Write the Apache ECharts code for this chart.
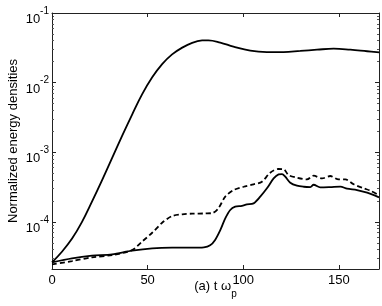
<!DOCTYPE html>
<html>
<head>
<meta charset="utf-8">
<script src="https://cdn.jsdelivr.net/npm/echarts@6/dist/echarts.min.js"></script>
<style>html,body{margin:0;padding:0;background:#fff}#c{width:382px;height:306px}</style>
</head>
<body>
<div id="c"></div>
<script>
// Upper solid curve
const tUpper = [0, 5.2, 10.5, 15.7, 20.9, 26.2, 31.4, 36.6, 41.9, 47.1, 52.4, 57.6, 62.8, 68.1, 73.3, 78.5, 81.8, 88, 94.9, 103.7, 112.4, 121.1, 129.8, 138.6, 147.3, 156, 164.8, 171.2];
const upper = [2.62e-5, 3.72e-5, 5.75e-5, 1.0e-4, 1.95e-4, 3.98e-4, 8.22e-4, 1.70e-3, 3.47e-3, 6.76e-3, 1.19e-2, 1.84e-2, 2.54e-2, 3.18e-2, 3.73e-2, 4.03e-2, 4.05e-2, 3.76e-2, 3.28e-2, 2.87e-2, 2.75e-2, 2.75e-2, 2.85e-2, 2.97e-2, 3.07e-2, 2.97e-2, 2.82e-2, 2.72e-2];
// Lower solid curve
const tLower = [0, 10.5, 20.9, 31.4, 41.9, 52.4, 62.8, 73.3, 79.4, 82.7, 85.3, 88, 90.6, 93.2, 95.8, 99.3, 101.9, 105.4, 108.9, 112.4, 115.9, 118.5, 120.3, 122, 124.6, 128.1, 131.6, 135.1, 136.8, 140.3, 145.5, 150.8, 154.3, 159.5, 164.8, 171];
const lower = [2.62e-5, 2.99e-5, 3.26e-5, 3.41e-5, 3.85e-5, 4.16e-5, 4.25e-5, 4.25e-5, 4.3e-5, 4.6e-5, 5.5e-5, 7.6e-5, 1.12e-4, 1.48e-4, 1.65e-4, 1.70e-4, 1.78e-4, 1.84e-4, 2.3e-4, 3.03e-4, 4.2e-4, 4.8e-4, 4.86e-4, 4.45e-4, 3.65e-4, 3.3e-4, 3.19e-4, 3.16e-4, 3.41e-4, 3.13e-4, 3.16e-4, 3.21e-4, 2.99e-4, 2.86e-4, 2.62e-4, 2.25e-4];
// Dashed curve
const tDashed = [0, 10.5, 20.9, 31.4, 41.9, 47.1, 52.4, 57.6, 62.8, 68.1, 73.3, 80.3, 84, 87, 90.6, 95, 100.2, 105.4, 109.8, 114.1, 118.5, 121.1, 123.7, 128.1, 133.3, 136.8, 141.2, 145.5, 149.9, 153.4, 157.8, 163, 166.5, 170.8];
const dashed = [2.45e-5, 2.73e-5, 3.09e-5, 3.33e-5, 3.93e-5, 5.2e-5, 6.97e-5, 9.7e-5, 1.21e-4, 1.28e-4, 1.31e-4, 1.32e-4, 1.34e-4, 1.56e-4, 2.3e-4, 2.86e-4, 3.19e-4, 3.46e-4, 3.77e-4, 5.08e-4, 5.74e-4, 5.7e-4, 4.7e-4, 4.3e-4, 4.07e-4, 4.6e-4, 4.2e-4, 4.55e-4, 4.07e-4, 4.07e-4, 3.46e-4, 3.03e-4, 2.8e-4, 2.43e-4];

const xTicks = [0, 50, 100, 150];
const yMajor = [1e-4, 1e-3, 1e-2, 1e-1];
const yMinor = [3e-5,4e-5,5e-5,6e-5,7e-5,8e-5,9e-5,2e-4,3e-4,4e-4,5e-4,6e-4,7e-4,8e-4,9e-4,2e-3,3e-3,4e-3,5e-3,6e-3,7e-3,8e-3,9e-3,2e-2,3e-2,4e-2,5e-2,6e-2,7e-2,8e-2,9e-2];
const yLabels = {'0.0001': '-4', '0.001': '-3', '0.01': '-2', '0.1': '-1'};

const X_MIN = 0, X_MAX = 171, Y_MIN = 2.1e-5, Y_MAX = 0.1;
const FONT = 'Liberation Sans, Arial, sans-serif';
const LINE = '#222';

function zip(t, v) { return t.map((x, i) => [x, v[i]]); }

const chart = echarts.init(document.getElementById('c'), null, {renderer: 'canvas'});

const baseY = {type: 'log', logBase: 10, min: Y_MIN, max: Y_MAX, splitLine: {show: false}, axisLabel: {show: false}, axisTick: {show: false}, axisLine: {show: false}, minorTick: {show: false}, minorSplitLine: {show: false}};
const baseX = {type: 'value', min: X_MIN, max: X_MAX, splitLine: {show: false}, axisLabel: {show: false}, axisTick: {show: false}, axisLine: {show: false}};

chart.setOption({
  backgroundColor: '#fff',
  animation: false,
  grid: {left: 52, right: 3, top: 13, bottom: 37, containLabel: false, outerBoundsMode: 'none'},
  xAxis: [
    Object.assign({}, baseX, {
      position: 'bottom',
      axisLine: {show: true, lineStyle: {color: LINE, width: 1}},
      axisTick: {show: true, inside: true, length: 4, customValues: xTicks, lineStyle: {color: LINE}},
      axisLabel: {show: true, customValues: xTicks, margin: 5, color: '#000', fontSize: 13, fontFamily: FONT},
      name: '{n|(a) t ω}{s|p}',
      nameLocation: 'middle',
      nameGap: 11,
      nameMoveOverlap: false,
      nameTextStyle: {color: '#000', fontFamily: FONT, verticalAlign: 'top', rich: {
        n: {fontSize: 13, fontFamily: FONT, color: '#000', lineHeight: 14, verticalAlign: 'top'},
        s: {fontSize: 10, fontFamily: FONT, color: '#000', lineHeight: 14, padding: [9, 0, 0, 0], verticalAlign: 'top'}
      }}
    }),
    Object.assign({}, baseX, {
      position: 'top',
      axisLine: {show: true, onZero: false, lineStyle: {color: LINE, width: 1}},
      axisTick: {show: true, inside: true, length: 4, customValues: xTicks, lineStyle: {color: LINE}}
    })
  ],
  yAxis: [
    Object.assign({}, baseY, {
      position: 'left',
      axisLine: {show: true, lineStyle: {color: LINE, width: 1}},
      axisTick: {show: true, inside: true, length: 4, customValues: yMajor, lineStyle: {color: LINE}},
      axisLabel: {show: true, customValues: yMajor, margin: 3, color: '#000', fontFamily: FONT,
        formatter: function (v) {
          const k = String(+v.toPrecision(3));
          return '{b|10}{s|' + (yLabels[k] || '') + '}';
        },
        rich: {
          b: {fontSize: 13, fontFamily: FONT, color: '#000', lineHeight: 14, padding: [7, 0, 0, 0], verticalAlign: 'top'},
          s: {fontSize: 10, fontFamily: FONT, color: '#000', lineHeight: 11, verticalAlign: 'top'}
        }
      },
      name: 'Normalized energy densities',
      nameLocation: 'middle',
      nameGap: 32,
      nameMoveOverlap: false,
      nameTextStyle: {color: '#000', fontSize: 13, fontFamily: FONT}
    }),
    Object.assign({}, baseY, {
      position: 'right',
      axisLine: {show: true, onZero: false, lineStyle: {color: LINE, width: 1}},
      axisTick: {show: true, inside: true, length: 4, customValues: yMajor, lineStyle: {color: LINE}}
    }),
    Object.assign({}, baseY, {
      position: 'left',
      axisTick: {show: true, inside: true, length: 2, customValues: yMinor, lineStyle: {color: '#555'}}
    }),
    Object.assign({}, baseY, {
      position: 'right',
      axisTick: {show: true, inside: true, length: 2, customValues: yMinor, lineStyle: {color: '#555'}}
    })
  ],
  series: [
    {type: 'line', xAxisIndex: 0, yAxisIndex: 0, data: zip(tUpper, upper), smooth: 0.4, showSymbol: false, symbol: 'none',
      lineStyle: {color: '#000', width: 1.8}},
    {type: 'line', xAxisIndex: 0, yAxisIndex: 0, data: zip(tLower, lower), smooth: 0.3, showSymbol: false, symbol: 'none',
      lineStyle: {color: '#000', width: 1.8}},
    {type: 'line', xAxisIndex: 0, yAxisIndex: 0, data: zip(tDashed, dashed), smooth: 0.3, showSymbol: false, symbol: 'none',
      lineStyle: {color: '#000', width: 1.8, type: [5, 3]}}
  ]
});
</script>
</body>
</html>
